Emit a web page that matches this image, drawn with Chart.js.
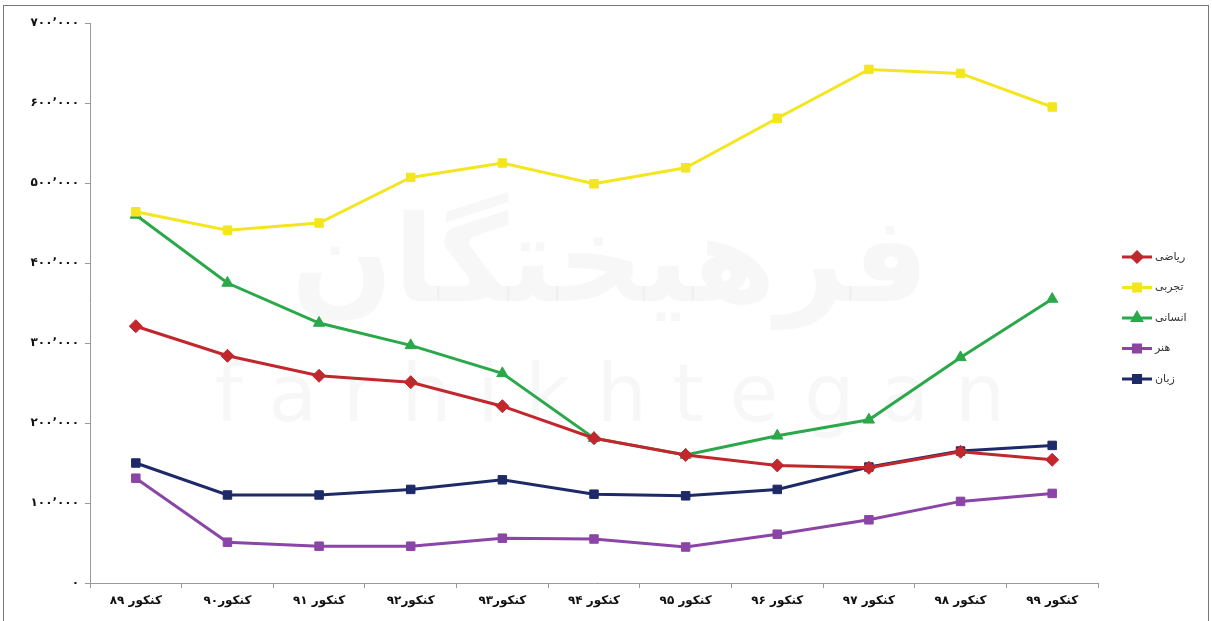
<!DOCTYPE html>
<html>
<head>
<meta charset="utf-8">
<script src="https://cdn.jsdelivr.net/npm/chart.js@4"></script>
<style>
  html, body { margin: 0; padding: 0; background: #fff; }
  #wrap { position: absolute; left: 0; top: 0; width: 1212px; height: 621px; }
</style>
</head>
<body>
<div id="wrap"><canvas id="chart" width="1212" height="621"></canvas></div>
<script>
// categories (x axis)
const years = ['کنکور ۸۹', 'کنکور۹۰', 'کنکور ۹۱', 'کنکور۹۲', 'کنکور۹۳', 'کنکور ۹۴', 'کنکور ۹۵', 'کنکور ۹۶', 'کنکور ۹۷', 'کنکور ۹۸', 'کنکور ۹۹']

// series values (applicants)
const riazi  = [321000, 284000, 259000, 251000, 221000, 181000, 160000, 147000, 144000, 164000, 154000]
const tajrobi = [464000, 441000, 450000, 507000, 525000, 499000, 519000, 581000, 642000, 637000, 595000]
const ensani = [460000, 375000, 325000, 297000, 262000, 181000, 160000, 184000, 204000, 282000, 355000]
const honar  = [131000, 51000, 46000, 46000, 56000, 55000, 45000, 61000, 79000, 102000, 112000]
const zaban  = [150000, 110000, 110000, 117000, 129000, 111000, 109000, 117000, 145000, 165000, 172000]

// series names
const names = ['ریاضی', 'تجربی', 'انسانی', 'هنر', 'زبان']

// y tick labels
const yTicks = ['۰', '۱۰۰٬۰۰۰', '۲۰۰٬۰۰۰', '۳۰۰٬۰۰۰', '۴۰۰٬۰۰۰', '۵۰۰٬۰۰۰', '۶۰۰٬۰۰۰', '۷۰۰٬۰۰۰']

const colors = ['#c1272d', '#f3e61f', '#2ba84a', '#8b45a6', '#1e2a68']
const styles = ['rectRot', 'rect', 'triangle', 'rect', 'rect']
const values = [riazi, tajrobi, ensani, honar, zaban]

let datasets = values.map(function(v, i) {
    return {
        label: names[i],
        data: v,
        borderColor: colors[i],
        backgroundColor: colors[i],
        borderWidth: 3,
        pointStyle: styles[i],
        pointRadius: styles[i] == 'rect' ? 6 : 6.5,
        pointBorderWidth: 1,
        tension: 0
    }
})

// frame + watermark behind, legend on the right
const decor = {
    id: 'decor',
    beforeDraw(chart) {
        let ctx = chart.ctx
        ctx.save()
        ctx.fillStyle = '#fff'
        ctx.fillRect(0, 0, chart.width, chart.height)
        ctx.strokeStyle = '#777'
        ctx.lineWidth = 1
        ctx.strokeRect(3.5, 5.5, 1205, 620)
        // faint watermark
        ctx.fillStyle = 'rgba(0,0,0,0.03)'
        ctx.textAlign = 'center'
        ctx.textBaseline = 'middle'
        ctx.font = 'bold 120px "DejaVu Sans"'
        ctx.fillText('فرهیختگان', 610, 270)
        ctx.font = '80px "DejaVu Sans"'
        ctx.fillText('f a r h i k h t e g a n', 610, 400)
        ctx.restore()
    },
    afterDraw(chart) {
        let ctx = chart.ctx
        ctx.save()
        chart.data.datasets.forEach(function(ds, i) {
            let y = 257 + i * 30.5
            ctx.strokeStyle = ds.borderColor
            ctx.lineWidth = 3
            ctx.beginPath()
            ctx.moveTo(1122, y)
            ctx.lineTo(1152, y)
            ctx.stroke()
            ctx.fillStyle = ds.backgroundColor
            Chart.helpers.drawPoint(ctx, { pointStyle: ds.pointStyle, radius: 5, borderWidth: 1 }, 1137, y)
            ctx.fill()
            ctx.fillStyle = '#333'
            ctx.font = '11px "DejaVu Sans"'
            ctx.textAlign = 'left'
            ctx.textBaseline = 'middle'
            ctx.fillText(ds.label, 1155, y)
        })
        ctx.restore()
    }
}

let chart = new Chart(document.getElementById('chart'), {
    type: 'line',
    data: { labels: years, datasets: datasets },
    plugins: [decor],
    options: {
        responsive: false,
        animation: false,
        layout: { padding: { left: 0, top: 23, right: 114, bottom: 0 } },
        plugins: {
            legend: { display: false },
            tooltip: { enabled: false }
        },
        scales: {
            x: {
                offset: true,
                grid: { offset: true, drawOnChartArea: false, color: '#999', tickLength: 5 },
                border: { color: '#999', width: 1 },
                ticks: { color: '#111', font: { family: 'DejaVu Sans', size: 12, weight: 'bold' }, maxRotation: 0, padding: 6 },
                afterFit(scale) { scale.height = 38 }
            },
            y: {
                min: 0,
                max: 700000,
                ticks: {
                    stepSize: 100000,
                    color: '#111',
                    font: { family: 'DejaVu Sans', size: 12, weight: 'bold' },
                    padding: 6,
                    callback: function(v) { return yTicks[Math.round(v / 100000)] }
                },
                grid: { drawOnChartArea: false, color: '#999', tickLength: 5 },
                border: { color: '#999', width: 1 },
                afterFit(scale) { scale.width = 90 }
            }
        }
    }
})
</script>
</body>
</html>
